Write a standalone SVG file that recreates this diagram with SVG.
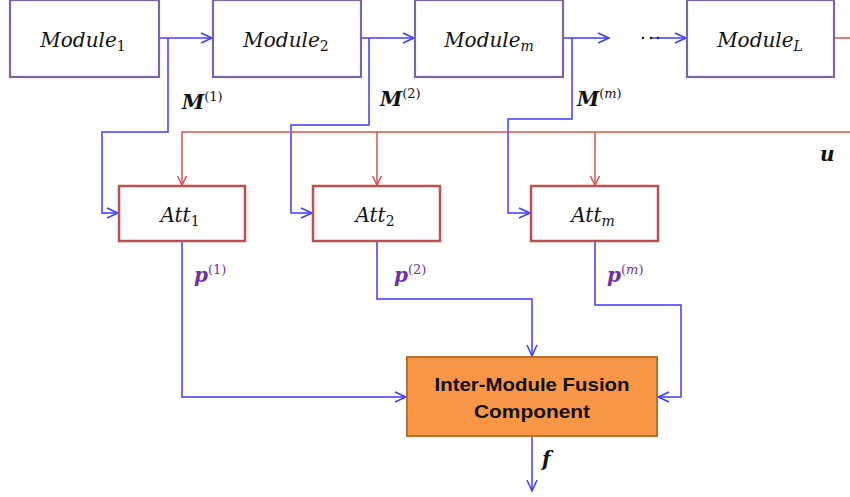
<svg xmlns="http://www.w3.org/2000/svg" width="850" height="497" viewBox="0 0 850 497">
<style>
.mod{fill:#fff;stroke:#8064A2;stroke-width:2.2}
.att{fill:#fff;stroke:#C0504D;stroke-width:2.5}
.fus{fill:#F79646;stroke:#B8702F;stroke-width:2}
.b{fill:none;stroke:#3C3CFF;stroke-width:1.5}
.r{fill:none;stroke:#D9534F;stroke-width:1.5}
.mt{font-family:"DejaVu Serif","Liberation Serif",serif;font-style:italic;font-size:20px;fill:#111}
.sub{font-size:14px;font-style:normal}
.subi{font-size:14px;font-style:italic}
.lbl{font-family:"DejaVu Serif","Liberation Serif",serif;font-style:italic;font-weight:bold;font-size:20px;fill:#111}
.sup{font-family:"DejaVu Serif","Liberation Serif",serif;font-style:normal;font-weight:normal;font-size:13px}
.supi{font-family:"DejaVu Serif","Liberation Serif",serif;font-style:italic;font-weight:normal;font-size:13px}
.pl{fill:#7030A0}
.ft{font-family:"Liberation Sans",Arial,sans-serif;font-weight:bold;font-size:19px;fill:#111}
</style>
<defs>
<marker id="ab" markerUnits="userSpaceOnUse" markerWidth="14" markerHeight="14" refX="12" refY="6" orient="auto">
<path d="M1,1 L12,6 L1,11" fill="none" stroke="#3C3CFF" stroke-width="1.5"/>
</marker>
<marker id="ar" markerUnits="userSpaceOnUse" markerWidth="14" markerHeight="14" refX="10" refY="5" orient="auto">
<path d="M1,0.5 L10,5 L1,9.5" fill="none" stroke="#D9534F" stroke-width="1.5"/>
</marker>
</defs>

<g id="connectors">
<path class="b" d="M159,38 H212" marker-end="url(#ab)"/>
<path class="b" d="M168,38 V132 H102 V213 H118" marker-end="url(#ab)"/>
<path class="b" d="M361,38 H414" marker-end="url(#ab)"/>
<path class="b" d="M369,38 V125 H291 V213 H312" marker-end="url(#ab)"/>
<path class="b" d="M563,38 H609" marker-end="url(#ab)"/>
<path class="b" d="M572,38 V119 H508 V213 H530" marker-end="url(#ab)"/>
<path class="b" d="M650,38 H686" marker-end="url(#ab)"/>
<path class="b" d="M182,241 V397 H406" marker-end="url(#ab)"/>
<path class="b" d="M377,241 V299 H532 V356" marker-end="url(#ab)"/>
<path class="b" d="M595,241 V305 H681 V397 H658" marker-end="url(#ab)"/>
<path class="b" d="M532,436 V491" marker-end="url(#ab)"/>
<path class="r" d="M835,38 H870 V132 H182 V185" marker-end="url(#ar)"/>
<path class="r" d="M377,132 V185" marker-end="url(#ar)"/>
<path class="r" d="M595,132 V185" marker-end="url(#ar)"/>
<circle cx="643" cy="38" r="1.3" fill="#222"/>
<circle cx="651" cy="38" r="1.3" fill="#222"/>
<circle cx="658" cy="38" r="1.3" fill="#222"/>
</g>

<g id="module1"><rect class="mod" x="10" y="0" width="149" height="77"/><text class="mt" x="83" y="47" text-anchor="middle">Module<tspan class="sub" dy="4">1</tspan></text></g>
<g id="module2"><rect class="mod" x="213" y="0" width="148" height="77"/><text class="mt" x="286" y="47" text-anchor="middle">Module<tspan class="sub" dy="4">2</tspan></text></g>
<g id="modulem"><rect class="mod" x="415" y="0" width="148" height="77"/><text class="mt" x="489" y="47" text-anchor="middle">Module<tspan class="subi" dy="4">m</tspan></text></g>
<g id="moduleL"><rect class="mod" x="687" y="0" width="147" height="77"/><text class="mt" x="760" y="47" text-anchor="middle">Module<tspan class="subi" dy="4">L</tspan></text></g>

<g id="att1"><rect class="att" x="119" y="186" width="126" height="55"/><text class="mt" x="180" y="222" text-anchor="middle">Att<tspan class="sub" dy="4">1</tspan></text></g>
<g id="att2"><rect class="att" x="313" y="186" width="127" height="55"/><text class="mt" x="375" y="222" text-anchor="middle">Att<tspan class="sub" dy="4">2</tspan></text></g>
<g id="attm"><rect class="att" x="531" y="186" width="127" height="55"/><text class="mt" x="593" y="222" text-anchor="middle">Att<tspan class="subi" dy="4">m</tspan></text></g>

<g id="fusion"><rect class="fus" x="407" y="357" width="250" height="79"/>
<text class="ft" x="532" y="391" text-anchor="middle" textLength="195" lengthAdjust="spacingAndGlyphs">Inter-Module Fusion</text>
<text class="ft" x="532" y="418" text-anchor="middle" textLength="116" lengthAdjust="spacingAndGlyphs">Component</text></g>

<g id="labels">
<text class="lbl" x="182" y="109">M<tspan class="sup" dy="-8">(1)</tspan></text>
<text class="lbl" x="380" y="106">M<tspan class="sup" dy="-8">(2)</tspan></text>
<text class="lbl" x="577" y="106">M<tspan class="sup" dy="-8">(</tspan><tspan class="supi">m</tspan><tspan class="sup">)</tspan></text>
<text class="lbl pl" x="194" y="282">p<tspan class="sup" dy="-8">(1)</tspan></text>
<text class="lbl pl" x="394" y="282">p<tspan class="sup" dy="-8">(2)</tspan></text>
<text class="lbl pl" x="607" y="282">p<tspan class="sup" dy="-8">(</tspan><tspan class="supi">m</tspan><tspan class="sup">)</tspan></text>
<text class="lbl" x="820" y="161" font-size="22">u</text>
<text class="lbl" x="542" y="466" font-size="22">f</text>
</g>
</svg>
